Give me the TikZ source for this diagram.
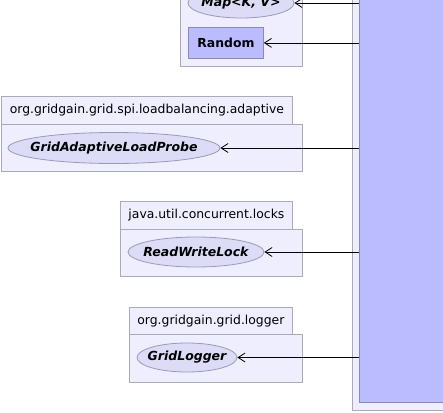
\documentclass[tikz,border=0pt]{standalone}
\usepackage{fontspec}
\setmainfont{DejaVu Sans}
\usetikzlibrary{shapes.geometric}
\usetikzlibrary{positioning}
\usetikzlibrary{arrows.meta}
\definecolor{pkgfill}{HTML}{EEEEFF}
\definecolor{pkgline}{HTML}{AAAABB}
\definecolor{ifcfill}{HTML}{DCDCF6}
\definecolor{ifcline}{HTML}{9999BB}
\definecolor{clsfill}{HTML}{BBBBFF}
\definecolor{clsline}{HTML}{8888BB}
% keep the ellipse at its given size, whatever the text
\newcommand{\iname}[1]{\makebox[0pt]{#1}}

\begin{document}
\begin{tikzpicture}[x=1pt, y=-1pt,
    pkgtab/.style={draw=pkgline, fill=pkgfill, line width=0.8pt, anchor=north west, inner sep=0pt, font=\fontsize{12.4}{14}\selectfont},
    pkgbody/.style={draw=pkgline, fill=pkgfill, line width=0.8pt},
    iface/.style={draw=ifcline, fill=ifcfill, ellipse, line width=0.8pt, inner sep=0pt, font=\fontsize{12.5}{14}\selectfont\bfseries\itshape},
    klass/.style={draw=clsline, fill=clsfill, line width=0.8pt, inner sep=0pt, font=\fontsize{12.4}{14}\selectfont\bfseries},
    dep/.style={-{Straight Barb[length=7pt, width=9pt]}, line width=0.8pt}]
    \useasboundingbox (0,0) rectangle (443,412);
    % central class (only its left part is visible)
    \draw[pkgbody] (352,-10) rectangle (460,410);
    \node[klass, anchor=north west, minimum width=100pt, minimum height=414pt] (main) at (359,-12) {};

    % java.util package
    \draw[pkgbody] (180,-30) rectangle (302,66);
    \node[iface, minimum width=106pt, minimum height=30pt] (map) at (241,3) {\iname{Map<K, V>}};
    \node[klass, anchor=north west, minimum width=75pt, minimum height=31pt] (random) at (188,27) {Random};

    % org.gridgain.grid.spi.loadbalancing.adaptive
    \node[pkgtab, minimum width=291pt, minimum height=28pt] (tabA) at (1,96) {org.gridgain.grid.spi.loadbalancing.adaptive};
    \draw[pkgbody] (1,124) rectangle (302,171);
    \node[iface, minimum width=212pt, minimum height=31pt] (probe) at (114,148) {\iname{GridAdaptiveLoadProbe}};

    % java.util.concurrent.locks
    \node[pkgtab, minimum width=172pt, minimum height=28pt] (tabB) at (120,201) {java.util.concurrent.locks};
    \draw[pkgbody] (120,229) rectangle (302,276);
    \node[iface, minimum width=136pt, minimum height=30pt] (rwlock) at (196,252) {\iname{ReadWriteLock}};

    % org.gridgain.grid.logger
    \node[pkgtab, minimum width=163pt, minimum height=27pt] (tabC) at (129,307) {org.gridgain.grid.logger};
    \draw[pkgbody] (129,334) rectangle (302,382);
    \node[iface, minimum width=100pt, minimum height=29pt] (logger) at (187,357.5) {\iname{GridLogger}};

    \draw[dep] (main.west |- map) -- (map);
    \draw[dep] (main.west |- random) -- (random);
    \draw[dep] (main.west |- probe) -- (probe);
    \draw[dep] (main.west |- rwlock) -- (rwlock);
    \draw[dep] (main.west |- logger) -- (logger);
\end{tikzpicture}
\end{document}
